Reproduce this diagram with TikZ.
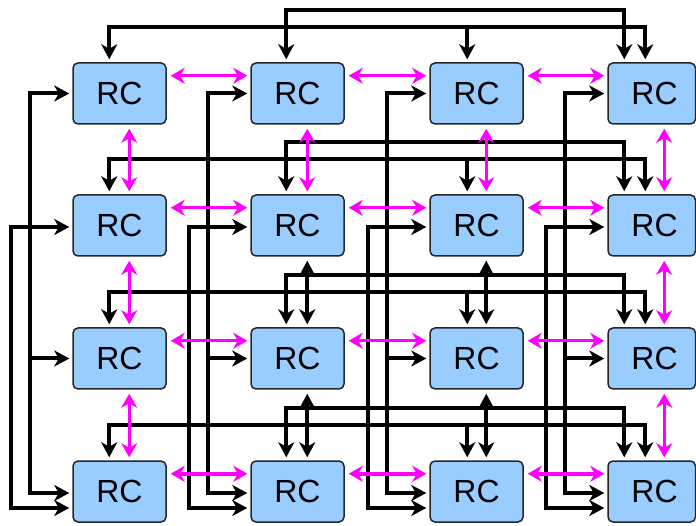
\documentclass[tikz,border=0pt]{standalone}
\usepackage{fontspec}
\setmainfont{Liberation Sans}
\usetikzlibrary{arrows.meta}
\definecolor{rcblue}{HTML}{99CCFF}
\definecolor{mag}{HTML}{FF00FF}
\begin{document}
\begin{tikzpicture}[x=1pt,y=1pt,
  rcbox/.style={draw=black!85, line width=1.5pt, fill=rcblue, rounded corners=5pt,
    minimum width=93pt, minimum height=61pt, inner sep=0pt,
    font=\fontsize{32}{32}\selectfont},
  rcend/.style={rcbox, minimum width=87.5pt},
  blk/.style={line width=4pt, black, >={Stealth[length=15pt,width=16pt,inset=4.5pt]}},
  mg/.style={line width=3.5pt, mag, >={Stealth[length=14pt,width=16pt,inset=4.5pt]}}]
\useasboundingbox (0,0) rectangle (696,525);
% boxes
\foreach \rw/\yy in {1/431.5,2/299.5,3/166.5,4/33.5}{
  \node[rcbox] (r\rw1) at (119.5,\yy) {RC};
  \node[rcbox] (r\rw2) at (297.5,\yy) {RC};
  \node[rcbox] (r\rw3) at (476.5,\yy) {RC};
  \node[rcend] (r\rw4) at (651.75,\yy) {\hspace*{5.5pt}RC};
}
% row buses
\foreach \rw in {1,2,3,4}{
  \draw[blk,<->] ([xshift=36pt,yshift=3pt]r\rw2.north west) |- ([yshift=52pt]r\rw3.north)
     -| ([xshift=17pt,yshift=3pt]r\rw4.north west);
  \draw[blk,<->] ([xshift=37pt,yshift=3pt]r\rw1.north west) |- ([yshift=35pt]r\rw2.north)
     -| ([xshift=38pt,yshift=3pt]r\rw4.north west);
  \draw[blk,->] ([xshift=38pt,yshift=35pt]r\rw3.north west) -- ([xshift=38pt,yshift=3pt]r\rw3.north west);
}
% column buses
\foreach \cl in {1,2,3,4}{
  \draw[blk,<->] ([xshift=-3pt]r1\cl.west) -| ([xshift=-42pt,yshift=-1.5pt]r4\cl.west)
     -- ([xshift=-3pt,yshift=-1.5pt]r4\cl.west);
  \draw[blk,->] ([xshift=-42pt]r3\cl.west) -- ([xshift=-3pt]r3\cl.west);
  \draw[blk,<->] ([xshift=-3pt,yshift=-1.5pt]r2\cl.west) -| ([xshift=-61pt,yshift=-16.5pt]r4\cl.west)
     -- ([xshift=-3pt,yshift=-16.5pt]r4\cl.west);
}
% black vertical neighbour links
\foreach \cl in {2,3}{
  \draw[blk,<->] ([xshift=57pt,yshift=-4pt]r2\cl.south west) -- ([xshift=57pt,yshift=3pt]r3\cl.north west);
  \draw[blk,<->] ([xshift=57pt,yshift=-4pt]r3\cl.south west) -- ([xshift=57pt,yshift=3pt]r4\cl.north west);
}
% magenta neighbour links
\foreach \rw in {1,2,3,4}{
  \draw[mg,<->] ([xshift=4pt,yshift=-13.5pt]r\rw1.north east) -- ([xshift=-3pt,yshift=-13.5pt]r\rw2.north west);
  \draw[mg,<->] ([xshift=4pt,yshift=-13.5pt]r\rw2.north east) -- ([xshift=-3pt,yshift=-13.5pt]r\rw3.north west);
  \draw[mg,<->] ([xshift=4pt,yshift=-13.5pt]r\rw3.north east) -- ([xshift=-3pt,yshift=-13.5pt]r\rw4.north west);
}
\foreach \cl in {1,2,3,4}{
  \draw[mg,<->] ([xshift=57pt,yshift=-4pt]r1\cl.south west) -- ([xshift=57pt,yshift=3pt]r2\cl.north west);
}
\foreach \cl in {1,4}{
  \draw[mg,<->] ([xshift=57pt,yshift=-4pt]r2\cl.south west) -- ([xshift=57pt,yshift=3pt]r3\cl.north west);
  \draw[mg,<->] ([xshift=57pt,yshift=-4pt]r3\cl.south west) -- ([xshift=57pt,yshift=3pt]r4\cl.north west);
}
\end{tikzpicture}
\end{document}
